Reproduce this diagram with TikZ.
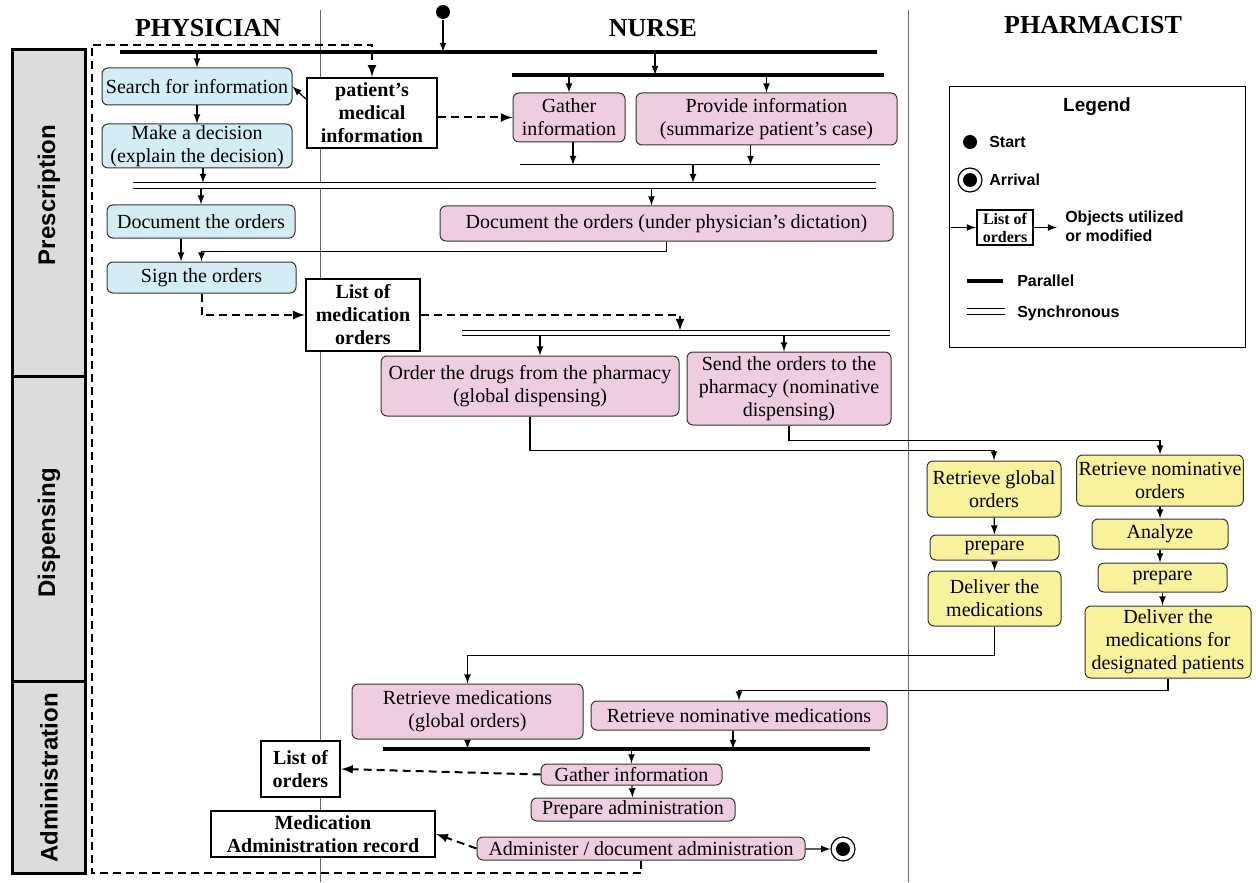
\documentclass[tikz,border=0pt]{standalone}
\usepackage{fontspec}
\setmainfont{Liberation Serif}
\setsansfont{Liberation Sans}
\usepackage{xcolor}
\usepackage{tikz}
\usetikzlibrary{positioning}
\definecolor{physfill}{HTML}{D4EDF4}
\definecolor{nursefill}{HTML}{EFCDE1}
\definecolor{pharmfill}{HTML}{F8F29C}
\definecolor{phasefill}{HTML}{DCDCDD}
\newcommand{\boxfont}{\fontsize{10}{11.5}\selectfont}
\tikzset{act node/.style={draw=black!80,line width=.5pt,rounded corners=3pt,align=center,inner xsep=1pt,inner ysep=.5pt,font=\boxfont},
  phys node/.style={act node,fill=physfill},
  nurse node/.style={act node,fill=nursefill},
  pharm node/.style={act node,fill=pharmfill},
  obj node/.style={draw,line width=1.2pt,fill=white,align=center,inner sep=.5pt,font=\boxfont\bfseries},
  par bar/.style={line width=2pt},
  sync bar/.style={double,double distance=2.2pt,line width=.5pt},
  obj flow/.style={dash pattern=on 4pt off 2.5pt,line width=1pt},
  lane head/.style={font=\fontsize{13}{15}\selectfont\bfseries},
  phase box/.style={draw,line width=1.5pt,fill=phasefill},
  phase label/.style={rotate=90,font=\sffamily\bfseries\fontsize{12}{14}\selectfont},
  legend text/.style={anchor=west,align=left,font=\sffamily\bfseries\fontsize{8}{9.5}\selectfont},
  start dot/.style={circle,fill=black,minimum size=7pt,inner sep=0pt},
}

\begin{document}
\begin{tikzpicture}[x=0.5pt,y=-0.5pt,>=latex,line width=.6pt]
    \useasboundingbox (0,0) rectangle (1256,882);

    % lanes and phases
    \draw[black!60,line width=.5pt] (320,10) -- (320,882);
    \draw[black!60,line width=.5pt] (908,10) -- (908,882);
    \draw[phase box] (12,50) rectangle (85,376);
    \draw[phase box] (12,376) rectangle (85,681);
    \draw[phase box] (12,681) rectangle (85,873);
    \node[phase label] (presc) at (49,195) {Prescription};
    \node[phase label] (disp) at (49,533) {Dispensing};
    \node[phase label] (admph) at (49,778) {Administration};

    \node[lane head] (hphys) at (208,28) {PHYSICIAN};
    \node[lane head] (hnurse) at (653,28) {NURSE};
    \node[lane head] (hpharm) at (1093,25) {PHARMACIST};

    % bars
    \coordinate (b1w) at (120,52);
    \coordinate (b1e) at (877,52);
    \coordinate (b2w) at (512,75);
    \coordinate (b2e) at (884,75);
    \coordinate (s1w) at (520,165);
    \coordinate (s1e) at (880,165);
    \coordinate (d1w) at (133,185.5);
    \coordinate (d1e) at (876,185.5);
    \coordinate (d1t) at (133,183);
    \coordinate (d1b) at (133,188);
    \coordinate (d2w) at (462,333);
    \coordinate (d2e) at (890,333);
    \coordinate (d2t) at (462,330.5);
    \coordinate (d2b) at (462,335.5);
    \coordinate (b3w) at (383,749);
    \coordinate (b3e) at (870,749);
    \draw[par bar] (b1w) -- (b1e);
    \draw[par bar] (b2w) -- (b2e);
    \draw[line width=.5pt] (s1w) -- (s1e);
    \draw[sync bar] (d1w) -- (d1e);
    \draw[sync bar] (d2w) -- (d2e);
    \draw[par bar] (b3w) -- (b3e);

    % physician
    \node[phys node,minimum width=95pt,minimum height=18.5pt] (srch) at (197,86.5) {Search for information};
    \node[phys node,minimum width=95pt,minimum height=22pt] (decide) at (197,146) {Make a decision\\(explain the decision)};
    \node[phys node,minimum width=94pt,minimum height=16.5pt] (docph) at (201,221.5) {Document the orders};
    \node[phys node,minimum width=94.5pt,minimum height=15.5pt] (sign) at (201.5,277.5) {Sign the orders};

    % objects
    \node[obj node,minimum width=65pt,minimum height=35pt] (patinfo) at (372,113) {patient’s\\medical\\information};
    \node[obj node,minimum width=57pt,minimum height=36pt] (medlist) at (363,315) {List of\\medication\\orders};
    \node[obj node,minimum width=39.5pt,minimum height=28pt] (ordlist) at (300.5,769) {List of\\orders};
    \node[obj node,minimum width=112pt,minimum height=23pt] (marrec) at (323,834) {Medication\\Administration record};

    % nurse
    \node[nurse node,minimum width=56pt,minimum height=24.5pt] (gather) at (569,117.5) {Gather\\information};
    \node[nurse node,minimum width=130.5pt,minimum height=26pt] (provide) at (766.5,119) {Provide information\\(summarize patient’s case)};
    \node[nurse node,minimum width=226.5pt,minimum height=17.5pt] (docnu) at (666.5,223.5) {Document the orders (under physician’s dictation)};
    \node[nurse node,minimum width=149pt,minimum height=30pt] (orddrug) at (530,386) {Order the drugs from the pharmacy\\(global dispensing)};
    \node[nurse node,minimum width=102pt,minimum height=36.5pt] (sendord) at (789,388.5) {Send the orders to the\\pharmacy (nominative\\dispensing)};
    \node[nurse node,minimum width=115.5pt,minimum height=27.5pt] (retmed) at (467.5,711.5) {Retrieve medications\\(global orders)};
    \node[nurse node,minimum width=148pt,minimum height=14.5pt] (retnom) at (739,715.5) {Retrieve nominative medications};
    \node[nurse node,minimum width=90.5pt,minimum height=10.5pt] (gath2) at (631.5,774.5) {Gather information};
    \node[nurse node,minimum width=102pt,minimum height=11.5pt] (prepadm) at (633,809.5) {Prepare administration};
    \node[nurse node,minimum width=164pt,minimum height=11.5pt] (admin) at (641,848.5) {Administer / document administration};

    % pharmacist
    \node[pharm node,minimum width=67pt,minimum height=28pt] (retglob) at (994,489) {Retrieve global\\orders};
    \node[pharm node,minimum width=64.5pt,minimum height=12.5pt] (prep1) at (994.5,547.5) {prepare};
    \node[pharm node,minimum width=66.5pt,minimum height=27.5pt] (deliv1) at (994.5,598.5) {Deliver the\\medications};
    \node[pharm node,minimum width=83pt,minimum height=25.5pt] (retnomo) at (1160,480.5) {Retrieve nominative\\orders};
    \node[pharm node,minimum width=68pt,minimum height=15pt] (analyze) at (1160,534) {Analyze};
    \node[pharm node,minimum width=64.5pt,minimum height=14.5pt] (prep2) at (1162.5,577.5) {prepare};
    \node[pharm node,minimum width=83pt,minimum height=36pt] (deliv2) at (1168,642) {Deliver the\\medications for\\designated patients};

    % start / arrival
    \node[start dot] (start) at (443,12) {};
    \node[circle,draw,minimum size=12pt,inner sep=0pt] (arrive) at (843,849) {};
    \node[circle,fill=black,minimum size=7pt,inner sep=0pt] (arrivein) at (arrive) {};

    % control flow
    \draw[->] (start) -- (start |- b1w);
    \draw[->] (srch.north |- b1w) -- (srch.north);
    \coordinate (b2m) at (655,75);
    \draw[->] (b2m |- b1w) -- (b2m);
    \draw[->] (gather.north |- b2w) -- (gather.north);
    \draw[->] (provide.north |- b2w) -- (provide.north);
    \draw[->] (srch) -- (decide);
    \draw[->] ([xshift=2pt]gather.south) -- ([xshift=2pt]gather.south |- s1w);
    \draw[->] ([xshift=-8pt]provide.south) -- ([xshift=-8pt]provide.south |- s1w);
    \coordinate (s1m) at (693,165);
    \draw[->] (s1m) -- (s1m |- d1t);
    \draw[->] ([xshift=3pt]decide.south) -- ([xshift=3pt]decide.south |- d1t);
    \draw[->] (docph.north |- d1b) -- (docph.north);
    \draw[->] ([xshift=-7.5pt]docnu.north |- d1b) -- ([xshift=-7.5pt]docnu.north);
    \draw[->] ([xshift=-10pt]docph.south) -- ([xshift=-10pt]docph.south |- sign.north);
    \draw[->] (docnu.south) -- ++(0,10) -| (sign.north);
    \draw[->] ([xshift=5pt]orddrug.north |- d2b) -- ([xshift=5pt]orddrug.north);
    \draw[->] ([xshift=-2.5pt]sendord.north |- d2b) -- ([xshift=-2.5pt]sendord.north);
    \draw[->] (orddrug.south) -- ++(0,34) -| (retglob.north);
    \draw[->] (sendord.south) -- ++(0,15) -| (retnomo.north);
    \draw[->] (retglob) -- (prep1);
    \draw[->] (prep1) -- (deliv1);
    \draw[->] (retnomo) -- (analyze);
    \draw[->] (analyze.south) -- (analyze.south |- prep2.north);
    \draw[->] (prep2.south) -- (prep2.south |- deliv2.north);
    \draw[->] (deliv1.south) -- ++(0,29) -| (retmed.north);
    \draw[->] (deliv2.south) -- ++(0,12) -| (retnom.north);
    \draw[->] (retmed.south) -- (retmed.south |- b3w);
    \draw[->] ([xshift=-3pt]retnom.south) -- ([xshift=-3pt]retnom.south |- b3w);
    \draw[->] (gath2.north |- b3w) -- (gath2.north);
    \draw[->] (gath2) -- (prepadm);
    \draw[->] (admin) -- (arrive);

    % object flow
    \coordinate (dbot) at (92,873);
    \coordinate (dtop) at (92,45);
    \draw[obj flow,->] (admin.south) |- (dbot) |- (patinfo.north |- dtop) -- (patinfo.north);
    \draw[->] ([yshift=7pt]patinfo.west) -- (srch.east);
    \draw[obj flow,->] (patinfo.east |- gather.west) -- (gather.west);
    \draw[obj flow,->] (sign.south) |- (medlist.west);
    \coordinate (d2a) at (680,315);
    \draw[obj flow,->] (medlist.east |- d2a) -| (d2a |- d2t);
    \draw[obj flow,->] (gath2.west) -- (ordlist.east);
    \draw[obj flow,->] (admin.west) -- (marrec.east);

    % legend
    \draw[line width=.5pt] (949,87) rectangle (1245,347);
    \node[font=\sffamily\bfseries\fontsize{9.5}{11}\selectfont] (lgtitle) at (1097,107) {Legend};
    \node[start dot] (lgstart) at (970,142) {};
    \node[legend text] (lgstarttx) at (982,142) {Start};
    \node[circle,draw,minimum size=12pt,inner sep=0pt] (lgarr) at (970,180) {};
    \node[circle,fill=black,minimum size=7pt,inner sep=0pt] (lgarrin) at (lgarr) {};
    \node[legend text] (lgarrtx) at (982,180) {Arrival};
    \node[obj node,line width=1pt,font=\fontsize{8}{9}\selectfont\bfseries,minimum width=28pt,minimum height=17.5pt] (lgobj) at (1005,227.5) {List of\\orders};
    \coordinate (lgin) at (951,227.5);
    \coordinate (lgout) at (1057,227.5);
    \draw[->] (lgin) -- (lgobj);
    \draw[->] (lgobj) -- (lgout);
    \node[legend text] (lgobjtx) at (1058,226) {Objects utilized\\or modified};
    \coordinate (lgpw) at (967,281);
    \coordinate (lgpe) at (1003,281);
    \draw[par bar] (lgpw) -- (lgpe);
    \node[legend text] (lgpartx) at (1010,281) {Parallel};
    \coordinate (lgsw) at (967,311.5);
    \coordinate (lgse) at (1005,311.5);
    \draw[sync bar] (lgsw) -- (lgse);
    \node[legend text] (lgsynctx) at (1010,313) {Synchronous};
\end{tikzpicture}
\end{document}
